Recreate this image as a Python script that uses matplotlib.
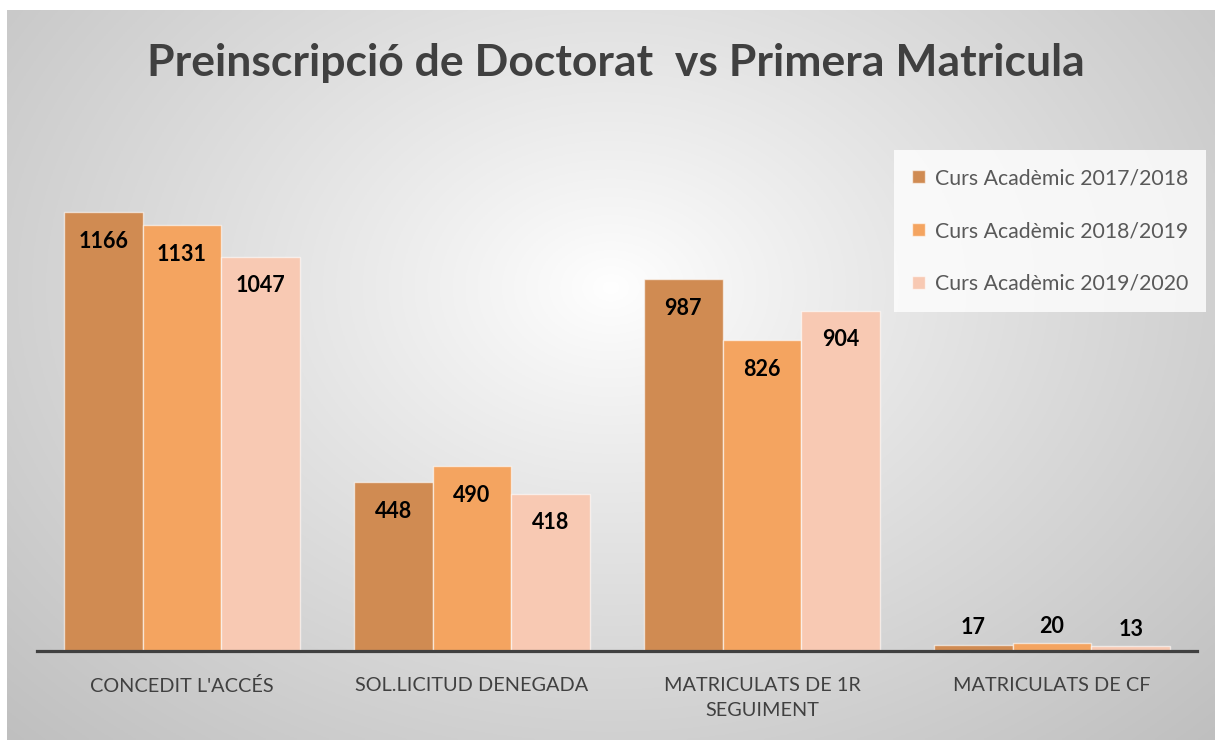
import numpy as np
import matplotlib.pyplot as plt
from matplotlib.patches import Patch

# dades del gràfic
categories = ["CONCEDIT L'ACCÉS", "SOL.LICITUD DENEGADA",
              "MATRICULATS DE 1R\nSEGUIMENT", "MATRICULATS DE CF"]
curs_1718 = [1166, 448, 987, 17]
curs_1819 = [1131, 490, 826, 20]
curs_1920 = [1047, 418, 904, 13]
series_labels = ["Curs Acadèmic 2017/2018", "Curs Acadèmic 2018/2019",
                 "Curs Acadèmic 2019/2020"]
colors = ["#D08B52", "#F4A460", "#F8C9B3"]

plt.rcParams['font.family'] = ['Lato', 'DejaVu Sans']

W, H = 1215, 740
fig = plt.figure(figsize=(W / 100, H / 100), dpi=100)

# fons amb degradat radial (blanc al centre, gris a les vores)
bg = fig.add_axes([7 / W, 0, 1 - 7 / W, 1 - 10 / H], zorder=-5)
yy, xx = np.mgrid[0:1:300j, 0:1:500j]
r = np.sqrt(((xx - 0.5) / 0.5) ** 2 + ((yy - 0.62) / 0.62) ** 2) / np.sqrt(2)
r = np.clip(r, 0, 1)
val = 1 - 0.25 * r ** 0.9
bg.imshow(np.dstack([val, val, val]), aspect='auto', origin='lower',
          extent=[0, 1, 0, 1])
bg.axis('off')

ax = fig.add_axes([37 / W, (H - 651) / H, 1160 / W, (651 - 163) / H])
ax.patch.set_alpha(0)

x = np.arange(len(categories))
w = 0.272
for i, (vals, lab, col) in enumerate(zip([curs_1718, curs_1819, curs_1920],
                                         series_labels, colors)):
    bars = ax.bar(x + (i - 1) * w, vals, w, color=col, label=lab,
                  edgecolor=(1, 1, 1, 0.6), linewidth=1)
    for b, v in zip(bars, vals):
        # etiquetes dins la barra, o a sobre si la barra és molt baixa
        dy = -21 if v > 100 else 12
        ax.annotate(str(v), (b.get_x() + b.get_width() / 2, v),
                    xytext=(0, dy), textcoords='offset points',
                    ha='center', va='center', fontsize=15.5,
                    fontweight='bold', color='black')

ax.set_xlim(-0.5, 3.5)
ax.set_ylim(0, 1296)
ax.set_xticks(x)
ax.set_xticklabels(categories, fontsize=14.3, color='#404040',
                   linespacing=1.55)
ax.tick_params(axis='x', length=0, pad=19)
ax.set_yticks([])
for s in ['top', 'right', 'left']:
    ax.spines[s].set_visible(False)
ax.spines['bottom'].set_color('#404040')
ax.spines['bottom'].set_linewidth(2.3)

fig.text(0.507, 1 - 63 / H, "Preinscripció de Doctorat  vs Primera Matricula",
         ha='center', va='center', fontsize=32, fontweight='bold',
         color='#404040')

handles = [Patch(facecolor=c, edgecolor=(1, 1, 1, 0.6)) for c in colors]
leg = ax.legend(handles, series_labels, loc='upper right',
                bbox_to_anchor=(1206 / W, 1 - 150 / H),
                bbox_transform=fig.transFigure, borderaxespad=0,
                fontsize=15.3, labelcolor='#595959', frameon=True,
                fancybox=False, handlelength=0.6, handleheight=0.6,
                handletextpad=0.45, labelspacing=1.55, borderpad=0.85)
leg.get_frame().set_facecolor((1, 1, 1, 0.28))
leg.get_frame().set_edgecolor('none')

fig.savefig('out.png', dpi=100)
